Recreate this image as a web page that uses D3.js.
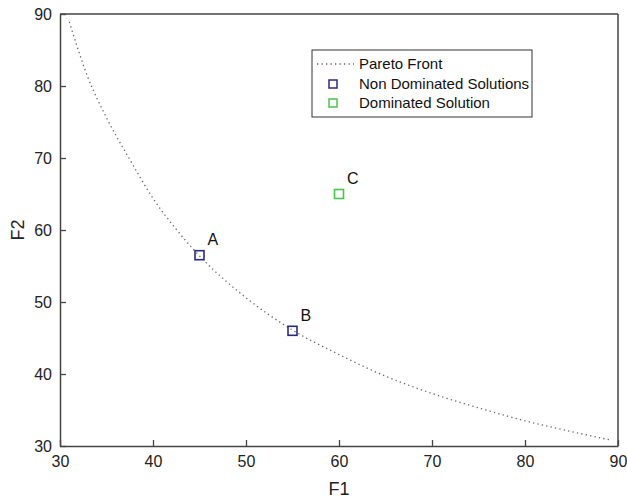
<!DOCTYPE html>
<html><head><meta charset="utf-8">
<script src="https://cdn.jsdelivr.net/npm/d3@7"></script>
<style>body{margin:0;background:#fff;} svg{display:block;font-family:"Liberation Sans",Arial,sans-serif;}</style>
</head><body><svg id="c" width="627" height="501"></svg>
<script>
const xTicks = [30, 40, 50, 60, 70, 80, 90];
const yTicks = [30, 40, 50, 60, 70, 80, 90];
const frontF1 = [31, 33, 35, 37.5, 40, 42.5, 45, 50, 55, 60, 65, 70, 75, 80, 85, 89.3];
const frontF2 = [88.9, 81.2, 75.6, 69.8, 64.4, 60.1, 56.4, 50.6, 46.1, 42.7, 39.7, 37.3, 35.3, 33.5, 32.0, 30.8];
const nonDomF1 = [45, 55];
const nonDomF2 = [56.5, 46];
const nonDomLabels = ["A", "B"];
const domF1 = [60];
const domF2 = [65];
const domLabels = ["C"];
const legendLabels = ["Pareto Front", "Non Dominated Solutions", "Dominated Solution"];

const svg = d3.select("#c");
const L = 60, R = 618, T = 14, B = 446;
const x = d3.scaleLinear().domain([30, 90]).range([L, R]);
const y = d3.scaleLinear().domain([30, 90]).range([B, T]);
const axisCol = "#444";
const navy = "#2b2b7e", green = "#4cc44c";

const xa = svg.append("g").attr("transform", `translate(0,${B})`)
  .call(d3.axisBottom(x).tickValues(xTicks).tickSizeInner(-6).tickSizeOuter(0).tickPadding(10));
const ya = svg.append("g").attr("transform", `translate(${L},0)`)
  .call(d3.axisLeft(y).tickValues(yTicks).tickSizeInner(-6).tickSizeOuter(0).tickPadding(8));
[xa, ya].forEach(g => {
  g.select(".domain").attr("stroke", axisCol).attr("stroke-width", 1.5);
  g.selectAll(".tick line").attr("stroke", axisCol).attr("stroke-width", 1.3);
  g.selectAll(".tick text").attr("fill", "#222").style("font-size", "16px").style("font-family", "'Liberation Sans',Arial,sans-serif");
});
ya.selectAll(".tick text").attr("dy", "0.32em");
svg.append("line").attr("x1", L).attr("x2", R).attr("y1", T).attr("y2", T).attr("stroke", axisCol).attr("stroke-width", 1.5);
svg.append("line").attr("x1", R).attr("x2", R).attr("y1", T).attr("y2", B).attr("stroke", axisCol).attr("stroke-width", 1.5);

svg.append("text").attr("x", (L + R) / 2).attr("y", 495).attr("text-anchor", "middle")
  .style("font-size", "18px").attr("fill", "#222").text("F1");
svg.append("text").attr("transform", `translate(24,${(T + B) / 2}) rotate(-90)`).attr("text-anchor", "middle")
  .style("font-size", "18px").attr("fill", "#222").text("F2");

const pts = frontF1.map((v, i) => [v, frontF2[i]]);
svg.append("path").datum(pts)
  .attr("d", d3.line().x(d => x(d[0])).y(d => y(d[1])).curve(d3.curveMonotoneX))
  .attr("fill", "none").attr("stroke", "#666").attr("stroke-width", 1.3)
  .attr("stroke-dasharray", "1.3,3.2");

const sq = 9;
function drawPts(f1, f2, labels, col) {
  f1.forEach((v, i) => {
    svg.append("rect").attr("x", x(v) - sq / 2).attr("y", y(f2[i]) - sq / 2)
      .attr("width", sq).attr("height", sq).attr("fill", "none").attr("stroke", col).attr("stroke-width", 1.6);
    svg.append("text").attr("x", x(v) + 8).attr("y", y(f2[i]) - 10)
      .style("font-size", "16px").attr("fill", "#111").text(labels[i]);
  });
}
drawPts(nonDomF1, nonDomF2, nonDomLabels, navy);
drawPts(domF1, domF2, domLabels, green);

const lg = svg.append("g");
lg.append("rect").attr("x", 312).attr("y", 50).attr("width", 220).attr("height", 67)
  .attr("fill", "#fff").attr("stroke", "#333").attr("stroke-width", 1);
const ly = [64, 84, 103];
lg.append("line").attr("x1", 317).attr("x2", 354).attr("y1", ly[0]).attr("y2", ly[0])
  .attr("stroke", "#666").attr("stroke-width", 1.3).attr("stroke-dasharray", "1.3,3.2");
[navy, green].forEach((c, i) => {
  lg.append("rect").attr("x", 333 - 4).attr("y", ly[i + 1] - 4).attr("width", 8).attr("height", 8)
    .attr("fill", "none").attr("stroke", c).attr("stroke-width", 1.5);
});
legendLabels.forEach((t, i) => {
  lg.append("text").attr("x", 359).attr("y", ly[i]).attr("dy", "0.35em")
    .style("font-size", "15px").attr("fill", "#111").text(t);
});
</script></body></html>
